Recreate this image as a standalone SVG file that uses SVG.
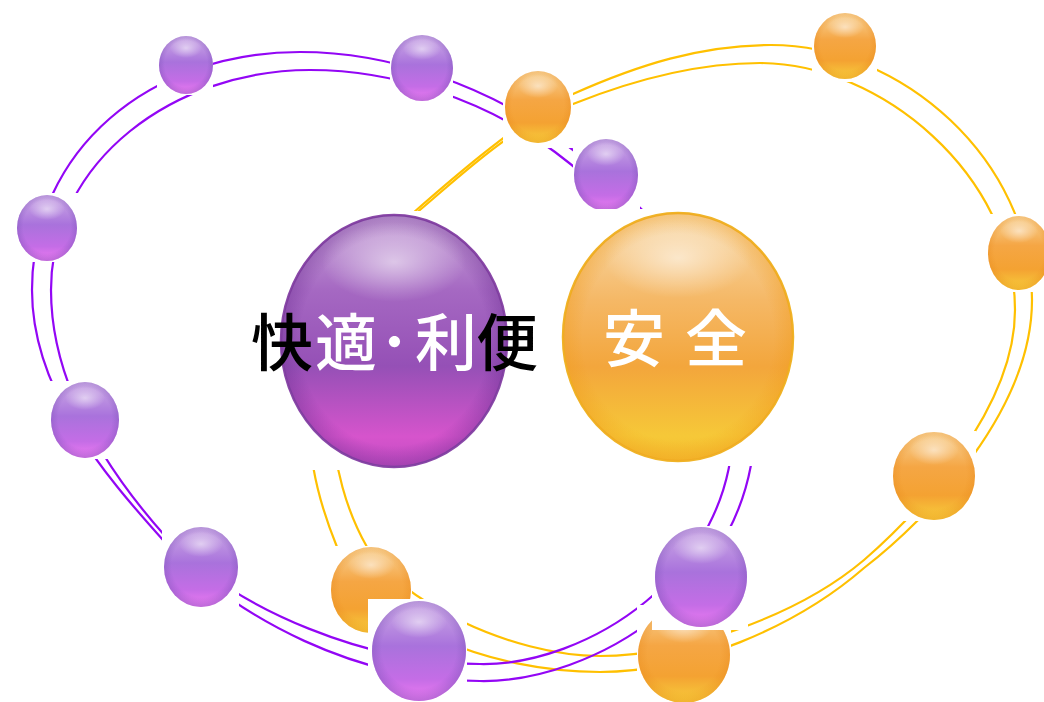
<svg xmlns="http://www.w3.org/2000/svg" width="1044" height="702" viewBox="0 0 1044 702">
  <defs>
    <!-- small violet bead -->
    <linearGradient id="gP" x1="0" y1="0" x2="0" y2="1">
      <stop offset="0" stop-color="#cdaee6"/>
      <stop offset="0.45" stop-color="#a972dc"/>
      <stop offset="0.78" stop-color="#c46de6"/>
      <stop offset="1" stop-color="#f07cf2"/>
    </linearGradient>
    <radialGradient id="shadeP" cx="0.5" cy="0.48" r="0.55">
      <stop offset="0.72" stop-color="#7d52b8" stop-opacity="0"/>
      <stop offset="1" stop-color="#7d52b8" stop-opacity="0.55"/>
    </radialGradient>
    <!-- small amber bead -->
    <linearGradient id="gO" x1="0" y1="0" x2="0" y2="1">
      <stop offset="0" stop-color="#f8d49a"/>
      <stop offset="0.4" stop-color="#f5a644"/>
      <stop offset="0.72" stop-color="#f4a232"/>
      <stop offset="1" stop-color="#f7d03c"/>
    </linearGradient>
    <radialGradient id="shadeO" cx="0.5" cy="0.48" r="0.55">
      <stop offset="0.72" stop-color="#e88a1c" stop-opacity="0"/>
      <stop offset="1" stop-color="#e88a1c" stop-opacity="0.5"/>
    </radialGradient>
    <!-- glossy top highlight -->
    <radialGradient id="hl" cx="0.5" cy="0.5" r="0.5">
      <stop offset="0" stop-color="#ffffff" stop-opacity="0.55"/>
      <stop offset="1" stop-color="#ffffff" stop-opacity="0"/>
    </radialGradient>
    <!-- large spheres -->
    <linearGradient id="gBP" x1="0" y1="0" x2="0" y2="1">
      <stop offset="0" stop-color="#caa8da"/>
      <stop offset="0.3" stop-color="#a568c2"/>
      <stop offset="0.6" stop-color="#9550b6"/>
      <stop offset="0.88" stop-color="#d654cc"/>
      <stop offset="1" stop-color="#c24cc2"/>
    </linearGradient>
    <radialGradient id="shadeBP" cx="0.5" cy="0.5" r="0.52">
      <stop offset="0.8" stop-color="#6a2c90" stop-opacity="0"/>
      <stop offset="1" stop-color="#6a2c90" stop-opacity="0.45"/>
    </radialGradient>
    <linearGradient id="gBO" x1="0" y1="0" x2="0" y2="1">
      <stop offset="0" stop-color="#f8dcb0"/>
      <stop offset="0.35" stop-color="#f5b866"/>
      <stop offset="0.62" stop-color="#f3a63c"/>
      <stop offset="0.9" stop-color="#f6c838"/>
      <stop offset="1" stop-color="#f4bd30"/>
    </linearGradient>
    <radialGradient id="shadeBO" cx="0.5" cy="0.5" r="0.52">
      <stop offset="0.8" stop-color="#f09a18" stop-opacity="0"/>
      <stop offset="1" stop-color="#f09a18" stop-opacity="0.45"/>
    </radialGradient>
  </defs>
  <style>
    .tile { fill: #ffffff; }
    .loopP { fill: none; stroke: #9306f5; stroke-width: 2.2; }
    .loopO { fill: none; stroke: #ffc000; stroke-width: 2.2; }
    .bp { fill: url(#gP); }
    .bps { fill: url(#shadeP); }
    .bo { fill: url(#gO); }
    .bos { fill: url(#shadeO); }
    .hl { fill: url(#hl); }
    .label { font-family: "Noto Sans CJK JP", "Noto Sans CJK SC", sans-serif; font-size: 62px; font-weight: 500; }
  </style>

  <rect width="1044" height="702" fill="#ffffff"/>

  <!-- double rings -->
  <g id="connectors">
    <path class="loopO" d="M573,94 C638,65 701,45 771,45 C901,45 1032,160 1032,300 C1032,410 929,518 864,568 C796,627 690,672 600,672 C490,672 370,625 337,547 C322,510 310,470 310,430 C310,350 345,272 413,213 C454,177 523,117 573,94 Z"/>
    <path class="loopO" d="M573,104 C633,80 695,63 760,63 C880,63 1015,175 1015,310 C1015,410 917,514 864,560 C799,615 685,656 600,656 C510,656 397,599 367,547 C347,512 333,465 333,420 C333,340 355,270 414,215 C455,181 515,122 573,104 Z"/>
    <path class="loopP" d="M300,52 C390,52 488,86 560,140 C648,206 755,310 755,420 C755,590 590,683 480,681 C360,681 237,621 163,540 C103,473 32,390 32,290 C32,150 150,52 300,52 Z"/>
    <path class="loopP" d="M310,70 C395,70 485,100 555,152 C640,216 733,320 733,425 C733,575 585,666 480,664 C370,664 238,612 166,537 C108,472 51,385 51,290 C51,160 175,70 310,70 Z"/>
  </g>

  <!-- amber beads -->
  <g id="o1"><rect class="tile" x="503" y="70" width="70" height="78"/><ellipse class="bo" cx="538" cy="107" rx="33" ry="36"/><ellipse class="bos" cx="538" cy="107" rx="33" ry="36"/><ellipse class="hl" cx="538" cy="86" rx="20" ry="12"/></g>
  <g id="o2"><rect class="tile" x="812" y="12" width="65" height="70"/><ellipse class="bo" cx="845" cy="46" rx="31" ry="33"/><ellipse class="bos" cx="845" cy="46" rx="31" ry="33"/><ellipse class="hl" cx="845" cy="27" rx="19" ry="11"/></g>
  <g id="o3"><rect class="tile" x="986" y="214" width="58" height="78"/><ellipse class="bo" cx="1019" cy="253" rx="31" ry="37"/><ellipse class="bos" cx="1019" cy="253" rx="31" ry="37"/><ellipse class="hl" cx="1019" cy="231" rx="19" ry="12"/></g>
  <g id="o4"><rect class="tile" x="892" y="431" width="84" height="90"/><ellipse class="bo" cx="934" cy="476" rx="41" ry="44"/><ellipse class="bos" cx="934" cy="476" rx="41" ry="44"/><ellipse class="hl" cx="934" cy="450" rx="25" ry="15"/></g>
  <g id="o5"><rect class="tile" x="330" y="546" width="82" height="87"/><ellipse class="bo" cx="371" cy="590" rx="40" ry="43"/><ellipse class="bos" cx="371" cy="590" rx="40" ry="43"/><ellipse class="hl" cx="371" cy="565" rx="24" ry="14"/></g>
  <g id="o6"><rect class="tile" x="637" y="605" width="94" height="97"/><ellipse class="bo" cx="684" cy="655" rx="46" ry="48"/><ellipse class="bos" cx="684" cy="655" rx="46" ry="48"/><ellipse class="hl" cx="684" cy="627" rx="28" ry="16"/></g>

  <!-- violet beads -->
  <g id="p1"><rect class="tile" x="157" y="35" width="56" height="60"/><ellipse class="bp" cx="186" cy="65" rx="27" ry="29"/><ellipse class="bps" cx="186" cy="65" rx="27" ry="29"/><ellipse class="hl" cx="186" cy="48" rx="16" ry="10"/></g>
  <g id="p2"><rect class="tile" x="390" y="34" width="63" height="68"/><ellipse class="bp" cx="422" cy="68" rx="31" ry="33"/><ellipse class="bps" cx="422" cy="68" rx="31" ry="33"/><ellipse class="hl" cx="422" cy="49" rx="19" ry="11"/></g>
  <g id="p3"><rect class="tile" x="14" y="193" width="64" height="69"/><ellipse class="bp" cx="47" cy="228" rx="30" ry="33"/><ellipse class="bps" cx="47" cy="228" rx="30" ry="33"/><ellipse class="hl" cx="47" cy="209" rx="18" ry="11"/></g>
  <g id="p4"><rect class="tile" x="49" y="381" width="72" height="78"/><ellipse class="bp" cx="85" cy="420" rx="34" ry="38"/><ellipse class="bps" cx="85" cy="420" rx="34" ry="38"/><ellipse class="hl" cx="85" cy="398" rx="20" ry="12"/></g>
  <g id="p5"><rect class="tile" x="162" y="526" width="77" height="82"/><ellipse class="bp" cx="201" cy="567" rx="37" ry="40"/><ellipse class="bps" cx="201" cy="567" rx="37" ry="40"/><ellipse class="hl" cx="201" cy="544" rx="22" ry="13"/></g>
  <g id="p6"><rect class="tile" x="368" y="599" width="99" height="103"/><ellipse class="bp" cx="419" cy="651" rx="47" ry="50"/><ellipse class="bps" cx="419" cy="651" rx="47" ry="50"/><ellipse class="hl" cx="419" cy="622" rx="28" ry="16"/></g>
  <g id="p7"><rect class="tile" x="652" y="526" width="96" height="104"/><ellipse class="bp" cx="701" cy="577" rx="46" ry="50"/><ellipse class="bps" cx="701" cy="577" rx="46" ry="50"/><ellipse class="hl" cx="701" cy="548" rx="28" ry="16"/></g>
  <g id="p8"><rect class="tile" x="573" y="138" width="67" height="74"/><ellipse class="bp" cx="606" cy="175" rx="32" ry="36"/><ellipse class="bps" cx="606" cy="175" rx="32" ry="36"/><ellipse class="hl" cx="606" cy="154" rx="19" ry="12"/></g>

  <!-- large sphere: comfort / convenience -->
  <g id="comfort">
    <rect class="tile" x="278" y="211" width="282" height="259"/>
    <ellipse cx="394" cy="341" rx="113" ry="126" fill="url(#gBP)" stroke="#8a48a8" stroke-width="2.5"/>
    <ellipse cx="394" cy="341" rx="113" ry="126" fill="url(#shadeBP)"/>
    <ellipse cx="394" cy="262" rx="72" ry="40" fill="url(#hl)"/>
    <text class="label" y="366"><tspan x="251" fill="#000000">快</tspan><tspan x="315" fill="#ffffff">適</tspan><tspan x="379" fill="#ffffff">･</tspan><tspan x="415" fill="#ffffff">利</tspan><tspan x="476" fill="#000000">便</tspan></text>
  </g>

  <!-- large sphere: safety -->
  <g id="safety">
    <rect class="tile" x="548" y="209" width="252" height="257"/>
    <ellipse cx="678" cy="337" rx="115" ry="124" fill="url(#gBO)" stroke="#f0b428" stroke-width="2.5"/>
    <ellipse cx="678" cy="337" rx="115" ry="124" fill="url(#shadeBO)"/>
    <ellipse cx="678" cy="258" rx="74" ry="40" fill="url(#hl)"/>
    <text class="label" y="362" fill="#ffffff"><tspan x="603">安</tspan><tspan x="685">全</tspan></text>
  </g>
</svg>
